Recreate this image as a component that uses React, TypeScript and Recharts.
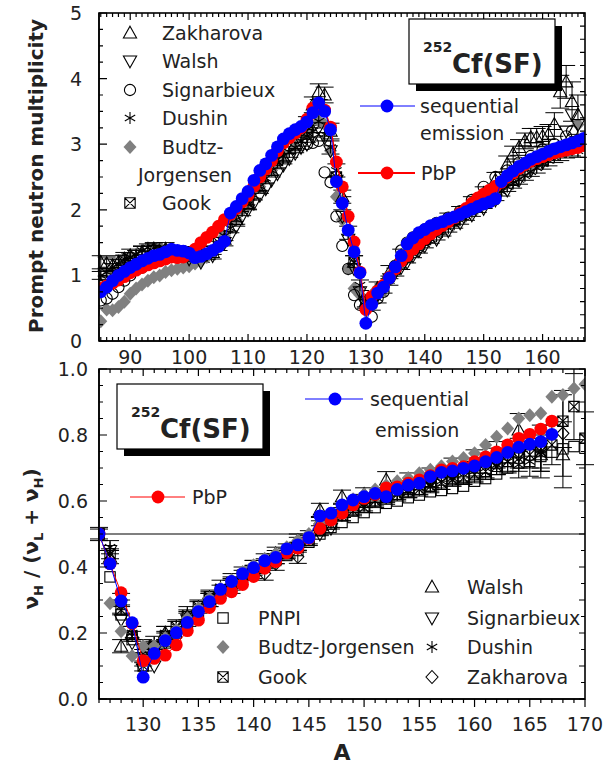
import React from 'react';
import { ScatterChart, Scatter, XAxis, YAxis, ErrorBar, ReferenceLine } from 'recharts';

const FONT = '"DejaVu Sans", "Liberation Sans", sans-serif';
const INK = '#222';
const BLUE = '#0000ff';
const RED = '#ff0000';
const GREY = '#808080';

function range(a: number, b: number, step = 1): number[] {
  const out: number[] = [];
  for (let i = 0; a + i * step <= b + 1e-9; i++) out.push(Math.round((a + i * step) * 1000) / 1000);
  return out;
}

// ================= TOP PANEL DATA (prompt neutron multiplicity vs A) =================
const topModelA = range(85, 167);
const topSeqNu = [
  0.75, 0.82, 0.92, 1.0, 1.06, 1.12, 1.17, 1.22, 1.26, 1.3,
  1.32, 1.36, 1.4, 1.38, 1.37, 1.34, 1.27, 1.29, 1.33, 1.38,
  1.44, 1.52, 1.95, 2.05, 2.17, 2.28, 2.45, 2.6, 2.7, 2.83,
  2.96, 3.08, 3.16, 3.22, 3.27, 3.34, 3.48, 3.63, 3.5, 3.22,
  2.43, 2.1, 1.69, 1.36, 1.04, 0.27, 0.56, 0.73, 0.82, 0.96,
  1.13, 1.3, 1.48, 1.57, 1.65, 1.7, 1.76, 1.79, 1.82, 1.86,
  1.89, 1.93, 1.97, 2.01, 2.05, 2.09, 2.12, 2.17, 2.43, 2.52,
  2.59, 2.66, 2.71, 2.77, 2.81, 2.85, 2.89, 2.93, 2.96, 2.99,
  3.02, 3.05, 3.09,
];
const topPbpNu = [
  0.8, 0.84, 0.88, 0.93, 0.98, 1.04, 1.08, 1.12, 1.16, 1.19,
  1.22, 1.25, 1.28, 1.27, 1.28, 1.32, 1.4, 1.5, 1.58, 1.66,
  1.75, 1.85, 1.93, 2.02, 2.12, 2.22, 2.36, 2.5, 2.62, 2.75,
  2.9, 3.02, 3.1, 3.17, 3.25, 3.38, 3.55, 3.58, 3.52, 3.26,
  2.73, 2.35, 1.9, 1.51, 1.05, 0.48, 0.68, 0.76, 0.85, 0.97,
  1.1, 1.22, 1.3, 1.4, 1.48, 1.56, 1.63, 1.7, 1.76, 1.82,
  1.88, 1.95, 2.02, 2.1, 2.18, 2.24, 2.3, 2.36, 2.42, 2.5,
  2.56, 2.63, 2.69, 2.74, 2.78, 2.81, 2.84, 2.87, 2.89, 2.91,
  2.93, 2.95, 2.98,
];

const dushinTopA = range(85, 166);
const dushinTopNu = [
  1.0, 1.05, 1.12, 1.18, 1.25, 1.28, 1.32, 1.38, 1.42, 1.42,
  1.4, 1.38, 1.38, 1.36, 1.36, 1.35, 1.38, 1.34, 1.3, 1.38,
  1.45, 1.6, 1.72, 1.85, 1.98, 2.08, 2.22, 2.36, 2.48, 2.6,
  2.72, 2.82, 2.88, 2.95, 3.05, 3.12, 3.2, 3.35, 3.15, 2.95,
  2.6, 2.1, 1.65, 1.2, 0.85, 0.6, 0.55, 0.65, 0.8, 0.92,
  1.05, 1.15, 1.25, 1.33, 1.4, 1.48, 1.55, 1.6, 1.66, 1.72,
  1.78, 1.84, 1.9, 1.96, 2.02, 2.08, 2.14, 2.2, 2.28, 2.35,
  2.4, 2.46, 2.52, 2.58, 2.64, 2.7, 2.75, 2.8, 2.84, 2.88,
  2.92, 2.9,
];
const dushinTopErr = [
  0.06, 0.06, 0.06, 0.06, 0.06, 0.06, 0.06, 0.06, 0.06, 0.06,
  0.06, 0.06, 0.06, 0.06, 0.06, 0.06, 0.06, 0.06, 0.06, 0.06,
  0.07, 0.07, 0.07, 0.07, 0.07, 0.07, 0.07, 0.07, 0.07, 0.07,
  0.08, 0.08, 0.08, 0.08, 0.08, 0.09, 0.09, 0.1, 0.1, 0.1,
  0.1, 0.1, 0.1, 0.1, 0.08, 0.08, 0.08, 0.07, 0.07, 0.07,
  0.06, 0.06, 0.06, 0.06, 0.06, 0.06, 0.06, 0.06, 0.06, 0.06,
  0.06, 0.06, 0.06, 0.06, 0.06, 0.06, 0.06, 0.06, 0.07, 0.07,
  0.07, 0.07, 0.07, 0.07, 0.08, 0.08, 0.08, 0.08, 0.09, 0.09,
  0.1, 0.1,
];

const walshTopA = [85, 86, 87, 88, 89, 90, 92, 94, 96, 98, 100, 102, 104, ...range(106, 140), ...range(142, 164, 2), 165, 166];
const walshTopNu = [
  0.85, 0.9, 0.95, 1.0, 1.08, 1.18,
  1.3, 1.38, 1.35, 1.3, 1.25, 1.2, 1.3,
  1.5, 1.6, 1.75, 1.9, 2.0, 2.1, 2.22, 2.32, 2.45, 2.55,
  2.68, 2.78, 2.86, 2.95, 3.0, 3.1, 3.25, 3.1, 2.9, 2.45,
  1.9, 1.55, 1.1, 0.75, 0.55, 0.6, 0.7, 0.82, 0.95, 1.05,
  1.12, 1.2, 1.3, 1.38, 1.45,
  1.55, 1.68, 1.8, 1.92, 2.02, 2.15, 2.3, 2.45, 2.6, 2.72, 2.85, 3.2,
  3.45, 3.3,
];

const zakTopA = [85, 86, 87, 88, 89, 90, ...range(92, 120, 2), 121, 122, 123, 124, ...range(126, 154, 2), ...range(155, 166)];
const zakTopNu = [
  1.2, 1.18, 1.15, 1.2, 1.25, 1.3,
  1.35, 1.4, 1.4, 1.35, 1.32, 1.3, 1.35, 1.55, 1.85, 2.1, 2.35, 2.6, 2.8, 3.0, 3.3,
  3.6, 3.8, 3.75, 3.2,
  2.2, 1.2, 0.6, 0.8, 1.05, 1.3, 1.45, 1.6, 1.72, 1.85, 1.95, 2.1, 2.25, 2.45, 2.7,
  2.85, 2.95, 3.05, 3.1, 3.1, 3.12, 3.15, 3.3, 3.8, 3.95, 3.65, 3.45,
];
const zakTopErr = [
  0.1, 0.1, 0.1, 0.1, 0.1, 0.1,
  0.1, 0.1, 0.1, 0.1, 0.1, 0.1, 0.1, 0.1, 0.1, 0.1, 0.1, 0.1, 0.1, 0.1, 0.12,
  0.12, 0.12, 0.12, 0.12,
  0.1, 0.1, 0.1, 0.1, 0.1, 0.1, 0.1, 0.1, 0.1, 0.1, 0.1, 0.1, 0.1, 0.12, 0.12,
  0.12, 0.12, 0.12, 0.14, 0.14, 0.15, 0.15, 0.18, 0.25, 0.25, 0.3, 0.3,
];

const sigTopA = [85, 86, 87, 88, 89, 90, 92, 94, 96, 98, 100, ...range(120, 138), ...range(140, 164, 2), 165];
const sigTopNu = [
  0.62, 0.65, 0.72, 0.82, 0.92, 1.0,
  1.12, 1.22, 1.3, 1.32, 1.3,
  3.0, 3.02, 3.05, 2.57, 2.42, 1.9, 1.45, 1.1, 0.7, 0.55,
  0.5, 0.37, 0.65, 0.75, 0.95, 1.15, 1.38, 1.5, 1.58,
  1.7, 1.8, 1.88, 1.98, 2.15, 2.35, 2.5, 2.6, 2.72, 2.82, 2.92, 3.0, 3.12,
  3.2,
];

const budtzTopA = [...range(85, 106), ...range(108, 122, 2), ...range(123, 132), ...range(134, 166, 2)];
const budtzTopNu = [
  0.3, 0.48, 0.47, 0.52, 0.6, 0.72, 0.8, 0.86, 0.92, 0.97,
  1.0, 1.05, 1.08, 1.1, 1.12, 1.14, 1.18, 1.22, 1.28, 1.35,
  1.45, 1.6,
  1.85, 2.1, 2.35, 2.6, 2.85, 3.05, 3.2, 3.35,
  3.3, 2.9, 2.2, 1.85, 1.1, 0.8, 0.7, 0.55, 0.65, 0.8,
  1.0, 1.25, 1.45, 1.6, 1.7, 1.8, 1.9, 2.0, 2.1, 2.22, 2.4, 2.55, 2.65, 2.75, 2.85, 3.0, 3.3,
];

const gookTopA = [90, 95, 100, 105, 110, 115, 120, 125, 128, 130, 135, 140, 145, 150, 155, 160, 165];
const gookTopNu = [1.2, 1.35, 1.3, 1.5, 2.1, 2.75, 3.2, 2.5, 1.2, 0.6, 1.1, 1.55, 1.85, 2.1, 2.45, 2.75, 2.95];

// ================= BOTTOM PANEL DATA (nu_H / (nu_L + nu_H) vs A) =================
const botModelA = range(126, 167);
const botSeqRatio = [
  0.5, 0.41, 0.297, 0.231, 0.066, 0.138, 0.177, 0.201, 0.232, 0.265,
  0.295, 0.332, 0.356, 0.38, 0.398, 0.419, 0.429, 0.455, 0.467, 0.489,
  0.555, 0.563, 0.588, 0.603, 0.613, 0.623, 0.613, 0.635, 0.648, 0.654,
  0.674, 0.687, 0.691, 0.699, 0.706, 0.719, 0.732, 0.747, 0.763, 0.772,
  0.78, 0.802,
];
const botPbpRatio = [
  0.5, 0.41, 0.322, 0.229, 0.116, 0.123, 0.133, 0.164, 0.207, 0.239,
  0.277, 0.305, 0.325, 0.347, 0.371, 0.396, 0.416, 0.443, 0.457, 0.487,
  0.517, 0.542, 0.563, 0.588, 0.608, 0.62, 0.64, 0.643, 0.654, 0.664,
  0.677, 0.694, 0.699, 0.704, 0.719, 0.734, 0.749, 0.77, 0.79, 0.802,
  0.818, 0.842,
];

const pnpiA = range(126, 170);
const pnpiRatio = [
  0.5, 0.37, 0.255, 0.18, 0.15, 0.155, 0.17, 0.2, 0.23, 0.265,
  0.3, 0.32, 0.345, 0.37, 0.39, 0.405, 0.42, 0.435, 0.45, 0.475,
  0.5, 0.52, 0.535, 0.55, 0.565, 0.58, 0.593, 0.6, 0.61, 0.618,
  0.628, 0.632, 0.638, 0.645, 0.66, 0.668, 0.682, 0.7, 0.715, 0.72,
  0.735, 0.748, 0.758, 0.765, 0.76,
];

const budtzBotA = range(126, 170);
const budtzBotRatio = [
  0.5, 0.29, 0.205, 0.13, 0.16, 0.16, 0.185, 0.21, 0.245, 0.275,
  0.305, 0.335, 0.36, 0.385, 0.405, 0.425, 0.44, 0.46, 0.48, 0.5,
  0.53, 0.56, 0.585, 0.605, 0.62, 0.635, 0.648, 0.66, 0.67, 0.684,
  0.695, 0.705, 0.72, 0.73, 0.745, 0.77, 0.795, 0.82, 0.85, 0.86,
  0.866, 0.916, 0.921, 0.941, 0.954,
];

const gookBotA = range(126, 170);
const gookBotRatio = [
  0.5, 0.44, 0.27, 0.19, 0.1, 0.16, 0.19, 0.22, 0.25, 0.28,
  0.31, 0.33, 0.35, 0.375, 0.39, 0.41, 0.425, 0.44, 0.46, 0.48,
  0.51, 0.53, 0.555, 0.57, 0.58, 0.6, 0.61, 0.62, 0.63, 0.635,
  0.645, 0.655, 0.665, 0.67, 0.68, 0.69, 0.705, 0.72, 0.73, 0.74,
  0.75, 0.77, 0.842, 0.886, 0.79,
];
const gookBotErr = [
  0.015, 0.015, 0.015, 0.015, 0.015, 0.015, 0.015, 0.015, 0.015, 0.015,
  0.015, 0.015, 0.015, 0.015, 0.015, 0.015, 0.015, 0.015, 0.015, 0.015,
  0.015, 0.015, 0.015, 0.015, 0.015, 0.015, 0.015, 0.015, 0.02, 0.02,
  0.02, 0.02, 0.02, 0.02, 0.025, 0.025, 0.025, 0.03, 0.03, 0.04,
  0.05, 0.06, 0.08, 0.1, 0.08,
];

const walshBotA = [127, 128, 129, 130, 131, 132, ...range(134, 168, 2)];
const walshBotRatio = [
  0.43, 0.16, 0.2, 0.12, 0.15, 0.2, 0.25, 0.3, 0.35, 0.4, 0.44, 0.48,
  0.573, 0.613, 0.62, 0.664, 0.66, 0.67, 0.7, 0.72, 0.74, 0.815, 0.74, 0.74,
];
const walshBotErr = [
  0.02, 0.02, 0.02, 0.02, 0.02, 0.02, 0.02, 0.02, 0.02, 0.02, 0.02, 0.02,
  0.02, 0.02, 0.02, 0.025, 0.025, 0.03, 0.03, 0.035, 0.04, 0.05, 0.07, 0.1,
];

const sigBotA = [127, 128, 129, 130, 131, 132, 134, 136, 138, 140, 142, 144, 146, 147, 148, ...range(150, 166, 2)];
const sigBotRatio = [
  0.45, 0.24, 0.17, 0.09, 0.1, 0.17, 0.24, 0.29, 0.33, 0.38, 0.42, 0.46, 0.5, 0.517, 0.56,
  0.6, 0.62, 0.64, 0.66, 0.68, 0.7, 0.72, 0.74, 0.76,
];

const dushinBotA = range(126, 166);
const dushinBotRatio = [
  0.5, 0.46, 0.28, 0.2, 0.16, 0.17, 0.2, 0.22, 0.26, 0.28,
  0.31, 0.34, 0.36, 0.38, 0.4, 0.42, 0.43, 0.45, 0.47, 0.49,
  0.52, 0.54, 0.56, 0.58, 0.59, 0.6, 0.61, 0.62, 0.63, 0.64,
  0.65, 0.66, 0.67, 0.68, 0.69, 0.7, 0.71, 0.72, 0.71, 0.72,
  0.74,
];
const dushinBotErr = [
  0.02, 0.02, 0.02, 0.02, 0.02, 0.02, 0.02, 0.02, 0.02, 0.02,
  0.02, 0.02, 0.02, 0.02, 0.02, 0.02, 0.02, 0.02, 0.02, 0.02,
  0.02, 0.02, 0.02, 0.02, 0.02, 0.02, 0.02, 0.02, 0.02, 0.02,
  0.02, 0.025, 0.025, 0.025, 0.03, 0.03, 0.03, 0.035, 0.04, 0.045,
  0.05,
];

const zakBotA = [128, 130, 132, 134, 136, 138, 140, 141, 142, ...range(144, 168, 2)];
const zakBotRatio = [
  0.3, 0.13, 0.18, 0.24, 0.3, 0.34, 0.385, 0.38, 0.41,
  0.431, 0.53, 0.57, 0.6, 0.62, 0.64, 0.66, 0.68, 0.7, 0.72, 0.74, 0.76, 0.805,
];
const zakBotErr = [
  0.02, 0.02, 0.02, 0.02, 0.02, 0.02, 0.02, 0.02, 0.02,
  0.02, 0.02, 0.02, 0.02, 0.02, 0.02, 0.02, 0.02, 0.03, 0.04, 0.05, 0.07, 0.13,
];

// ================= axis tick lists / domains =================
const TOP_X: [number, number] = [84.7, 167.2];
const TOP_Y: [number, number] = [0, 5];
const BOT_X: [number, number] = [126, 170];
const BOT_Y: [number, number] = [0, 1];
const topXTicks = range(85, 167);
const topYLeftTicks = range(0, 5, 0.25);
const topYRightTicks = range(0, 5, 0.2);
const botXTicks = range(126, 170);
const botYTicks = range(0, 1, 0.05);

// plot-area geometry shared with the Recharts margins below
const PL = 99; // plot left
const PR = 585; // plot right
const TOP_PT = 13;
const TOP_PB = 341;
const BOT_OFF = 355;
const BOT_PT = 369;
const BOT_PB = 699;

type Pt = { A: number; v: number; e?: number };
const pts = (A: number[], v: number[], e?: number[]): Pt[] =>
  A.map((a, i) => (e ? { A: a, v: v[i], e: e[i] } : { A: a, v: v[i] }));

// ================= markers =================
const SW = 1.1;
const mTriUp = (x: number, y: number) => (
  <path d={`M${x},${y - 6.8}L${x + 6.6},${y + 5}L${x - 6.6},${y + 5}Z`} fill="none" stroke="#000" strokeWidth={SW} />
);
const mTriDown = (x: number, y: number) => (
  <path d={`M${x},${y + 6.8}L${x + 6.6},${y - 5}L${x - 6.6},${y - 5}Z`} fill="none" stroke="#000" strokeWidth={SW} />
);
const mCircle = (x: number, y: number) => <circle cx={x} cy={y} r={5.6} fill="none" stroke="#000" strokeWidth={SW} />;
const mStar = (x: number, y: number) => (
  <path d={`M${x},${y - 6}L${x},${y + 6}M${x - 5.2},${y - 3}L${x + 5.2},${y + 3}M${x - 5.2},${y + 3}L${x + 5.2},${y - 3}`}
    fill="none" stroke="#000" strokeWidth={SW} />
);
const mDiamondGrey = (x: number, y: number) => (
  <path d={`M${x},${y - 7}L${x + 6.5},${y}L${x},${y + 7}L${x - 6.5},${y}Z`} fill={GREY} />
);
const mDiamondOpen = (x: number, y: number) => (
  <path d={`M${x},${y - 6.5}L${x + 6},${y}L${x},${y + 6.5}L${x - 6},${y}Z`} fill="none" stroke="#000" strokeWidth={SW} />
);
const mSquare = (x: number, y: number) => (
  <rect x={x - 5.2} y={y - 5.2} width={10.4} height={10.4} fill="none" stroke="#000" strokeWidth={SW} />
);
const mBoxX = (x: number, y: number) => (
  <path d={`M${x - 5.2},${y - 5.2}h10.4v10.4h-10.4ZM${x - 5.2},${y - 5.2}L${x + 5.2},${y + 5.2}M${x - 5.2},${y + 5.2}L${x + 5.2},${y - 5.2}`}
    fill="none" stroke="#000" strokeWidth={SW} />
);
const mBlue = (x: number, y: number) => <circle cx={x} cy={y} r={6.4} fill={BLUE} />;
const mRed = (x: number, y: number) => <circle cx={x} cy={y} r={6.4} fill={RED} />;

const shapeOf = (m: (x: number, y: number) => React.ReactElement) => (p: any) =>
  p == null || p.cx == null || p.cy == null ? <g /> : m(p.cx, p.cy);

// ================= tick label renderers (Recharts axes) =================
const isMult = (v: number, m: number) => Math.abs(v / m - Math.round(v / m)) < 1e-6;

const bottomLabel = (fmt: (v: number) => string | null, off: number) => (props: any) => {
  const lab = fmt(props.payload.value);
  if (lab == null) return <g />;
  return (
    <text x={Number(props.x)} y={Number(props.y) + off} textAnchor="middle" fontFamily={FONT} fontSize={19} fill={INK} stroke="none">
      {lab}
    </text>
  );
};
const leftLabel = (fmt: (v: number) => string | null, off: number) => (props: any) => {
  const lab = fmt(props.payload.value);
  if (lab == null) return <g />;
  return (
    <text x={Number(props.x) - off} y={Number(props.y) + 7} textAnchor="end" fontFamily={FONT} fontSize={19} fill={INK} stroke="none">
      {lab}
    </text>
  );
};

const topBottomTick = bottomLabel((v) => (isMult(v, 10) ? String(v) : null), 23);
const topLeftTick = leftLabel((v) => (isMult(v, 1) ? String(Math.round(v)) : null), 17);
const botBottomTick = bottomLabel((v) => (isMult(v, 5) && v >= 130 ? String(v) : null), 32);
const botLeftTick = leftLabel((v) => (isMult(v, 0.2) ? v.toFixed(1) : null), 11);

const AX = { stroke: '#000', strokeWidth: 1.5 };

// ================= charts =================
const TopPanel = () => (
  <ScatterChart width={612} height={TOP_PB + 31} margin={{ top: TOP_PT, right: 612 - PR, bottom: 0, left: 0 }}>
    <XAxis xAxisId="x" type="number" dataKey="A" domain={TOP_X} allowDataOverflow ticks={topXTicks} interval={0}
      tickLine={false} tickSize={0} tickMargin={0} axisLine={AX} height={31} tick={topBottomTick} />
    <YAxis yAxisId="y" type="number" dataKey="v" domain={TOP_Y} allowDataOverflow ticks={topYLeftTicks} interval={0}
      tickLine={false} tickSize={0} tickMargin={0} axisLine={AX} width={PL} tick={topLeftTick} />

    <Scatter xAxisId="x" yAxisId="y" data={pts(budtzTopA, budtzTopNu)} shape={shapeOf(mDiamondGrey)} isAnimationActive={false} />
    <Scatter xAxisId="x" yAxisId="y" data={pts(gookTopA, gookTopNu)} shape={shapeOf(mBoxX)} isAnimationActive={false} />
    <Scatter xAxisId="x" yAxisId="y" data={pts(sigTopA, sigTopNu)} shape={shapeOf(mCircle)} isAnimationActive={false} />
    <Scatter xAxisId="x" yAxisId="y" data={pts(walshTopA, walshTopNu)} shape={shapeOf(mTriDown)} isAnimationActive={false} />
    <Scatter xAxisId="x" yAxisId="y" data={pts(dushinTopA, dushinTopNu, dushinTopErr)} shape={shapeOf(mStar)} isAnimationActive={false}>
      <ErrorBar dataKey="e" direction="y" width={9} stroke="#000" strokeWidth={1} />
    </Scatter>
    <Scatter xAxisId="x" yAxisId="y" data={pts(zakTopA, zakTopNu, zakTopErr)} shape={shapeOf(mTriUp)} isAnimationActive={false}>
      <ErrorBar dataKey="e" direction="y" width={9} stroke="#000" strokeWidth={1} />
    </Scatter>
    <Scatter xAxisId="x" yAxisId="y" data={pts(topModelA, topPbpNu)} shape={shapeOf(mRed)} line={{ stroke: RED, strokeWidth: 1.6 }} lineType="joint" isAnimationActive={false} />
    <Scatter xAxisId="x" yAxisId="y" data={pts(topModelA, topSeqNu)} shape={shapeOf(mBlue)} line={{ stroke: BLUE, strokeWidth: 1 }} lineType="joint" isAnimationActive={false} />
  </ScatterChart>
);

const BottomPanel = () => (
  <ScatterChart width={612} height={BOT_PB - BOT_OFF + 66} margin={{ top: BOT_PT - BOT_OFF, right: 612 - PR, bottom: 0, left: 0 }}>
    <XAxis xAxisId="x" type="number" dataKey="A" domain={BOT_X} allowDataOverflow ticks={botXTicks} interval={0}
      tickLine={false} tickSize={0} tickMargin={0} axisLine={AX} height={66} tick={botBottomTick} />
    <YAxis yAxisId="y" type="number" dataKey="v" domain={BOT_Y} allowDataOverflow ticks={botYTicks} interval={0}
      tickLine={false} tickSize={0} tickMargin={0} axisLine={AX} width={PL} tick={botLeftTick} />

    <ReferenceLine xAxisId="x" yAxisId="y" y={0.5} stroke="#000" strokeWidth={1.2} />

    <Scatter xAxisId="x" yAxisId="y" data={pts(pnpiA, pnpiRatio)} shape={shapeOf(mSquare)} isAnimationActive={false} />
    <Scatter xAxisId="x" yAxisId="y" data={pts(gookBotA, gookBotRatio, gookBotErr)} shape={shapeOf(mBoxX)} isAnimationActive={false}>
      <ErrorBar dataKey="e" direction="y" width={9} stroke="#000" strokeWidth={1} />
    </Scatter>
    <Scatter xAxisId="x" yAxisId="y" data={pts(walshBotA, walshBotRatio, walshBotErr)} shape={shapeOf(mTriUp)} isAnimationActive={false}>
      <ErrorBar dataKey="e" direction="y" width={9} stroke="#000" strokeWidth={1} />
    </Scatter>
    <Scatter xAxisId="x" yAxisId="y" data={pts(sigBotA, sigBotRatio)} shape={shapeOf(mTriDown)} isAnimationActive={false} />
    <Scatter xAxisId="x" yAxisId="y" data={pts(dushinBotA, dushinBotRatio, dushinBotErr)} shape={shapeOf(mStar)} isAnimationActive={false}>
      <ErrorBar dataKey="e" direction="y" width={9} stroke="#000" strokeWidth={1} />
    </Scatter>
    <Scatter xAxisId="x" yAxisId="y" data={pts(zakBotA, zakBotRatio, zakBotErr)} shape={shapeOf(mDiamondOpen)} isAnimationActive={false}>
      <ErrorBar dataKey="e" direction="y" width={9} stroke="#000" strokeWidth={1} />
    </Scatter>
    <Scatter xAxisId="x" yAxisId="y" data={pts(budtzBotA, budtzBotRatio)} shape={shapeOf(mDiamondGrey)} isAnimationActive={false} />
    <Scatter xAxisId="x" yAxisId="y" data={pts(botModelA, botPbpRatio)} shape={shapeOf(mRed)} line={{ stroke: RED, strokeWidth: 1 }} lineType="joint" isAnimationActive={false} />
    <Scatter xAxisId="x" yAxisId="y" data={pts(botModelA, botSeqRatio)} shape={shapeOf(mBlue)} line={{ stroke: BLUE, strokeWidth: 1 }} lineType="joint" isAnimationActive={false} />
  </ScatterChart>
);

// ================= frame + tick marks (same linear mapping as the Recharts plot area) =================
const lin = (d: [number, number], r0: number, r1: number) => (v: number) => r0 + ((v - d[0]) / (d[1] - d[0])) * (r1 - r0);

type TickSet = { vals: number[]; major: (v: number) => boolean; maj: number; min: number };
const FrameAndTicks = (p: {
  xd: [number, number]; yd: [number, number]; top: number; bottom: number;
  bottomT: TickSet; bottomOut: boolean; topT: TickSet; leftT: TickSet; rightT: TickSet;
}) => {
  const sx = lin(p.xd, PL, PR);
  const sy = lin(p.yd, p.bottom, p.top);
  let d = '';
  p.bottomT.vals.forEach((v) => {
    const L = p.bottomT.major(v) ? p.bottomT.maj : p.bottomT.min;
    d += `M${sx(v)},${p.bottom}v${p.bottomOut ? L : -L}`;
  });
  p.topT.vals.forEach((v) => {
    const L = p.topT.major(v) ? p.topT.maj : p.topT.min;
    d += `M${sx(v)},${p.top}v${L}`;
  });
  p.leftT.vals.forEach((v) => {
    const L = p.leftT.major(v) ? p.leftT.maj : p.leftT.min;
    d += `M${PL},${sy(v)}h${L}`;
  });
  p.rightT.vals.forEach((v) => {
    const L = p.rightT.major(v) ? p.rightT.maj : p.rightT.min;
    d += `M${PR},${sy(v)}h${-L}`;
  });
  return (
    <g>
      <rect x={PL} y={p.top} width={PR - PL} height={p.bottom - p.top} fill="none" stroke="#000" strokeWidth={1.6} />
      <path d={d} fill="none" stroke="#000" strokeWidth={1.2} />
    </g>
  );
};

const T = (props: any) => <text fontFamily={FONT} fontSize={19} fill={INK} {...props} />;

const TitleBox = ({ x, y }: { x: number; y: number }) => (
  <g>
    <rect x={x + 7} y={y + 7} width={146} height={65} fill="#000" />
    <rect x={x} y={y} width={146} height={65} fill="#fff" stroke="#000" strokeWidth={1.2} />
    <text x={x + 14} y={y + 33} fontFamily={FONT} fontSize={14} fontWeight="bold" fill={INK}>252</text>
    <text x={x + 43} y={y + 54} fontFamily={FONT} fontSize={26} fontWeight="bold" fill={INK}>Cf(SF)</text>
  </g>
);

const Overlay = () => (
  <svg width={612} height={765} style={{ position: 'absolute', left: 0, top: 0, pointerEvents: 'none' }}>
    <FrameAndTicks xd={TOP_X} yd={TOP_Y} top={TOP_PT} bottom={TOP_PB}
      bottomT={{ vals: topXTicks, major: (v) => isMult(v, 10), maj: 7, min: 4 }} bottomOut={false}
      topT={{ vals: topXTicks, major: (v) => isMult(v, 10), maj: 7, min: 4 }}
      leftT={{ vals: topYLeftTicks, major: (v) => isMult(v, 1), maj: 8, min: 4 }}
      rightT={{ vals: topYRightTicks, major: () => true, maj: 5, min: 5 }} />
    <FrameAndTicks xd={BOT_X} yd={BOT_Y} top={BOT_PT} bottom={BOT_PB}
      bottomT={{ vals: botXTicks, major: (v) => isMult(v, 5), maj: 8, min: 4 }} bottomOut={true}
      topT={{ vals: botXTicks, major: (v) => isMult(v, 5), maj: 7, min: 4 }}
      leftT={{ vals: botYTicks, major: (v) => isMult(v, 0.2), maj: 8, min: 4 }}
      rightT={{ vals: botYTicks, major: (v) => isMult(v, 0.1), maj: 6, min: 4 }} />

    <text transform="translate(43,176) rotate(-90)" textAnchor="middle" fontFamily={FONT} fontSize={20} fontWeight="bold" fill={INK}>
      Prompt neutron multiplicity
    </text>
    <text transform="translate(38,539) rotate(-90)" textAnchor="middle" fontFamily={FONT} fontSize={20} fontWeight="bold" fill={INK}>
      <tspan>ν</tspan>
      <tspan dy={5} fontSize={13}>H</tspan>
      <tspan dy={-5}> / (ν</tspan>
      <tspan dy={5} fontSize={13}>L</tspan>
      <tspan dy={-5}> + ν</tspan>
      <tspan dy={5} fontSize={13}>H</tspan>
      <tspan dy={-5}>)</tspan>
    </text>
    <text x={342} y={760} textAnchor="middle" fontFamily={FONT} fontSize={22} fontWeight="bold" fill={INK}>A</text>

    <TitleBox x={409} y={19} />
    <TitleBox x={117} y={384} />

    {mTriUp(130, 33)}<T x={162} y={40}>Zakharova</T>
    {mTriDown(130, 61)}<T x={162} y={68}>Walsh</T>
    {mCircle(130, 90)}<T x={162} y={97}>Signarbieux</T>
    {mStar(130, 118)}<T x={162} y={125}>Dushin</T>
    {mDiamondGrey(130, 147)}<T x={162} y={154}>Budtz-</T>
    <T x={138} y={182}>Jorgensen</T>
    {mBoxX(130, 203)}<T x={162} y={210}>Gook</T>

    <line x1={360} y1={106} x2={415} y2={106} stroke={BLUE} strokeWidth={1} />
    {mBlue(387, 106)}
    <T x={420} y={113}>sequential</T>
    <T x={420} y={140}>emission</T>
    <line x1={358} y1={173} x2={415} y2={173} stroke={RED} strokeWidth={2} />
    {mRed(387, 173)}
    <T x={421} y={180}>PbP</T>

    <line x1={305} y1={399} x2={363} y2={399} stroke={BLUE} strokeWidth={1} />
    {mBlue(335, 399)}
    <T x={370} y={406}>sequential</T>
    <T x={375} y={437}>emission</T>
    <line x1={130} y1={497} x2={185} y2={497} stroke={RED} strokeWidth={1} />
    {mRed(158, 497)}
    <T x={192} y={504}>PbP</T>

    {mSquare(223, 618)}<T x={258} y={625}>PNPI</T>
    {mDiamondGrey(223, 647)}<T x={258} y={654}>Budtz-Jorgensen</T>
    {mBoxX(223, 677)}<T x={258} y={684}>Gook</T>

    {mTriUp(432, 587)}<T x={467} y={594}>Walsh</T>
    {mTriDown(432, 618)}<T x={467} y={625}>Signarbieux</T>
    {mStar(432, 647)}<T x={467} y={654}>Dushin</T>
    {mDiamondOpen(432, 677)}<T x={467} y={684}>Zakharova</T>
  </svg>
);

export default function App() {
  return (
    <div style={{ position: 'absolute', left: 0, top: 0, width: 612, height: 765, background: '#fff', overflow: 'hidden' }}>
      <div style={{ position: 'absolute', left: 0, top: 0 }}>
        <TopPanel />
      </div>
      <div style={{ position: 'absolute', left: 0, top: BOT_OFF }}>
        <BottomPanel />
      </div>
      <Overlay />
    </div>
  );
}
